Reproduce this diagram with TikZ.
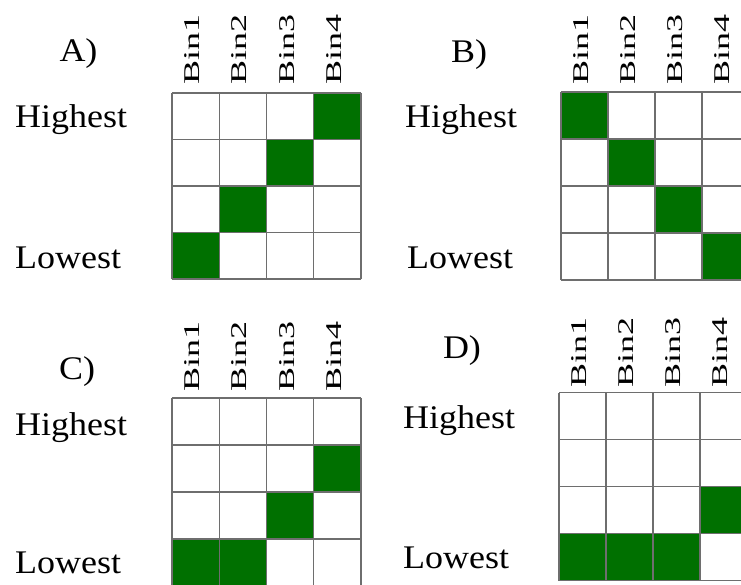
\documentclass[tikz,border=0pt]{standalone}
\usepackage{fontspec}
\setmainfont{Liberation Serif}
\definecolor{cellgreen}{RGB}{0,112,0}
\definecolor{gridgray}{RGB}{110,110,110}
\tikzset{
  lbl/.style={inner sep=0pt, anchor=base west, font=\fontsize{33}{36}\selectfont},
  panellbl/.style={inner sep=0pt, anchor=base, font=\fontsize{33}{36}\selectfont},
  binlbl/.style={inner sep=0pt, anchor=base west, rotate=90, font=\fontsize{22.5}{25}\selectfont},
  gridline/.style={draw=gridgray, line width=1.3pt},
  greencell/.style={fill=cellgreen}
}
% #1 x0, #2 y0, #3 cw, #4 ch, #5 list of green cells col/row, #6 prefix, #7 bin label offset
\newcommand{\bingrid}[7]{%
  \foreach \c/\r in {#5} {
    \fill[greencell] ({#1+(\c-1)*#3},{#2+(\r-1)*#4}) rectangle ({#1+\c*#3},{#2+\r*#4});
  }
  \foreach \i in {0,...,4} {
    \draw[gridline] ({#1+\i*#3},{#2}) -- ({#1+\i*#3},{#2+4*#4});
    \draw[gridline] ({#1},{#2+\i*#4}) -- ({#1+4*#3},{#2+\i*#4});
  }
  \foreach \c in {1,...,4} {
    \node[binlbl] (#6bin\c) at ({#1+(\c-0.5)*#3+4},{#2-#7}) {\scalebox{1.6}[1]{Bin\c}};
  }
}
\begin{document}
\begin{tikzpicture}[x=1pt,y=-1pt]
\useasboundingbox (0,0) rectangle (741,585);
\clip (0,0) rectangle (741,585);
\fill[white] (0,0) rectangle (741,585);
% Panel A
\bingrid{172}{93}{47.25}{46.5}{4/1,3/2,2/3,1/4}{A}{8}
\node[panellbl] (labA) at (78.5,62) {\scalebox{1.09}[1]{A)}};
\node[lbl] (hiA) at (15,128) {\scalebox{1.09}[1]{Highest}};
\node[lbl] (loA) at (15,269) {\scalebox{1.09}[1]{Lowest}};
% Panel B
\bingrid{561}{92}{47}{47}{1/1,2/2,3/3,4/4}{B}{7}
\node[panellbl] (labB) at (469,63) {\scalebox{1.09}[1]{B)}};
\node[lbl] (hiB) at (405,128) {\scalebox{1.09}[1]{Highest}};
\node[lbl] (loB) at (407,269) {\scalebox{1.09}[1]{Lowest}};
% Panel C
\bingrid{172}{398}{47.25}{47}{4/2,3/3,1/4,2/4}{C}{6}
\node[panellbl] (labC) at (77,379) {\scalebox{1.09}[1]{C)}};
\node[lbl] (hiC) at (15,435) {\scalebox{1.09}[1]{Highest}};
\node[lbl] (loC) at (15,573) {\scalebox{1.09}[1]{Lowest}};
% Panel D
\bingrid{559}{392.5}{47}{47}{4/3,1/4,2/4,3/4}{D}{4.5}
\node[panellbl] (labD) at (462,358) {\scalebox{1.09}[1]{D)}};
\node[lbl] (hiD) at (403,428) {\scalebox{1.09}[1]{Highest}};
\node[lbl] (loD) at (403,568) {\scalebox{1.09}[1]{Lowest}};
\end{tikzpicture}
\end{document}
